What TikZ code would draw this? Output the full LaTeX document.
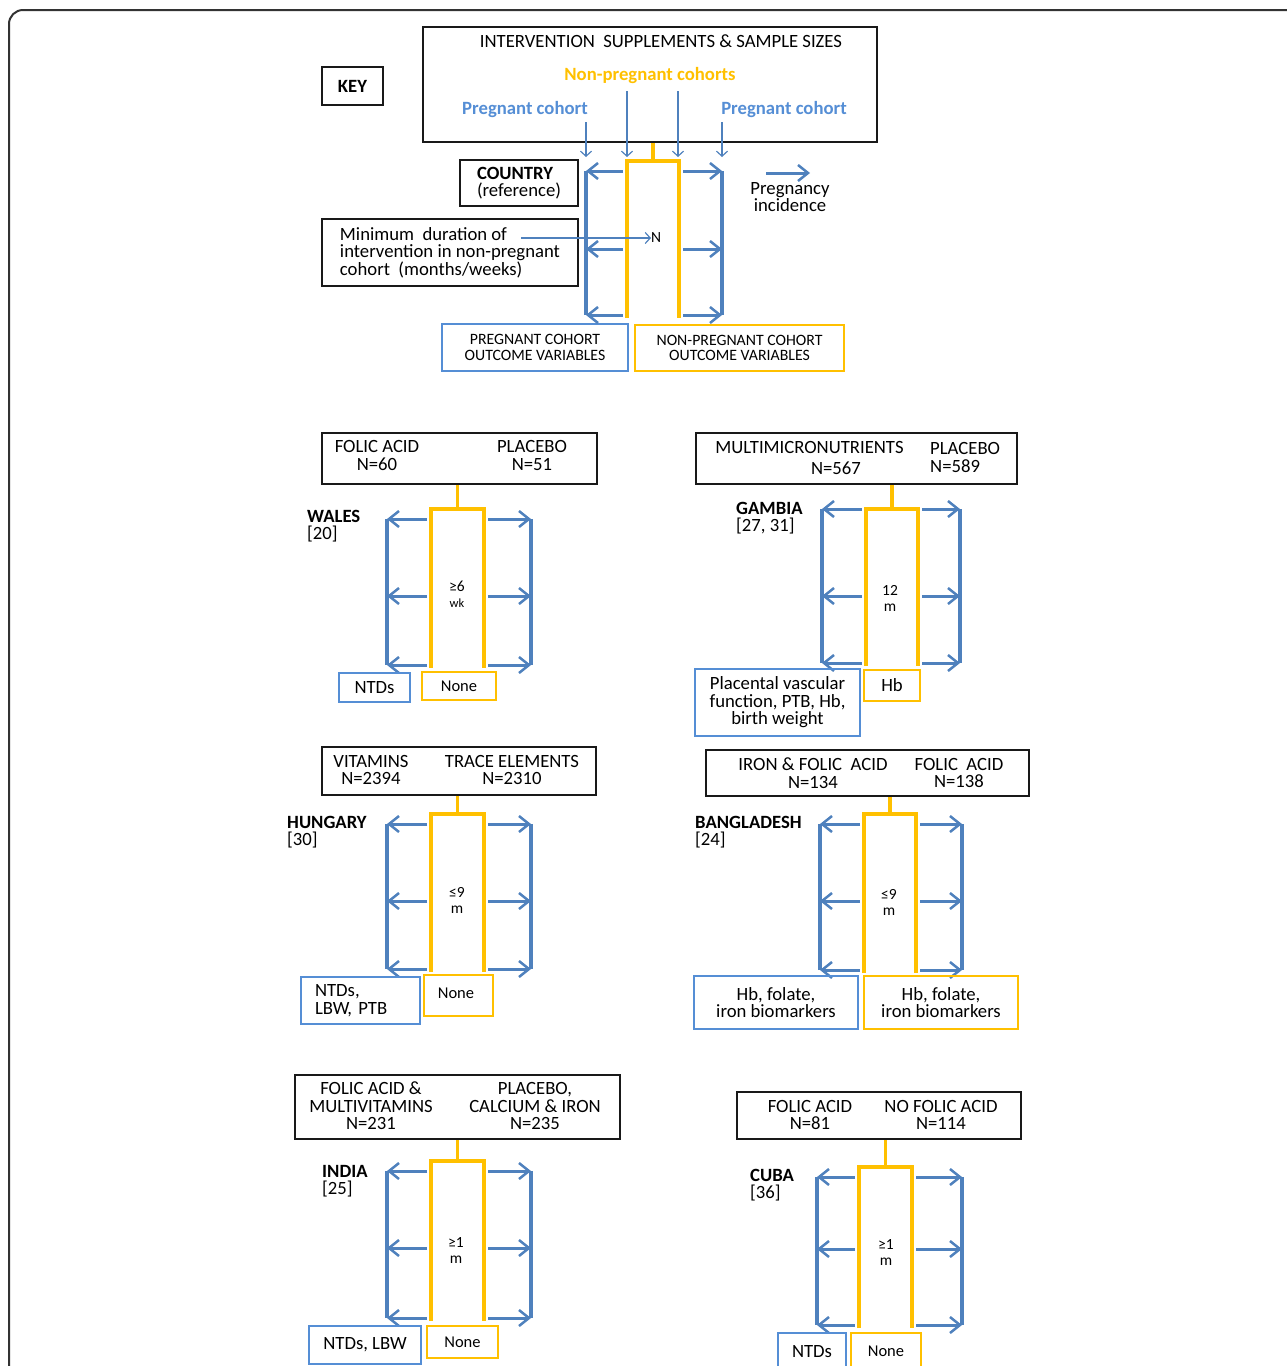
\documentclass[tikz,border=0pt]{standalone}
\usepackage{fontspec}
\setmainfont{Carlito}
\usetikzlibrary{arrows.meta,positioning}

\definecolor{pblue}{HTML}{4F81BD}
\definecolor{lblue}{HTML}{558ED5}
\definecolor{nyel}{HTML}{FFC000}

\newcommand\bigfs{\fontsize{18.7}{17.5}\selectfont}
\newcommand\midfs{\fontsize{16.5}{16}\selectfont}
\newcommand\outfs{\fontsize{15.8}{15.5}\selectfont}
\newcommand\smallfs{\fontsize{15.5}{16}\selectfont}
\newcommand\tinyfs{\fontsize{12.5}{13}\selectfont}

% #1 name, #2 blue left, #3 yellow left, #4 yellow right, #5 blue right,
% #6 yellow top, #7 #8 #9 arrow rows
\newcommand\cohortbracket[9]{%
  \coordinate (#1top) at ({(#3+#4)/2},#6);
  \draw[ylwline] (#3,#9+3) -- (#3,#6) -- (#4,#6) -- (#4,#9+3);
  \draw[blueline] (#2,#7) -- (#2,#9);
  \draw[blueline] (#5,#7) -- (#5,#9);
  \foreach \yy in {#7,#8,#9} {
    \draw[bluearr] (#3-4,\yy) -- (#2,\yy);
    \draw[bluearr] (#4+4,\yy) -- (#5,\yy);
  }
}

\begin{document}
\begin{tikzpicture}[x=1pt,y=-1pt,
    txt/.style={font=\bigfs,inner sep=0pt,align=center},
    ctry/.style={font=\bigfs,inner sep=0pt,align=left,anchor=north west},
    mid/.style={font=\smallfs,inner sep=0pt,align=center},
    blk/.style={draw=black!90,line width=1.5pt,inner sep=0pt},
    pbox/.style={draw=lblue,line width=2.5pt,inner sep=0pt,font=\bigfs,align=center},
    nbox/.style={draw=nyel,line width=2.5pt,inner sep=0pt,font=\midfs,align=center},
    ylwline/.style={draw=nyel,line width=3.5pt},
    blueline/.style={draw=pblue,line width=3.5pt},
    bluearr/.style={draw=pblue,line width=3pt,-{Straight Barb[length=10pt,width=16pt,line width=2.5pt]}},
    thinarr/.style={draw=pblue,line width=1.3pt,-{Straight Barb[length=5pt,width=11pt,line width=1.2pt]}}]

    \useasboundingbox (0,0) rectangle (1287,1366);
    \draw[draw=black!80,line width=2pt,rounded corners=14pt] (9,1400) -- (9,10) -- (1320,10);

    % key
    \node[blk,minimum width=61pt,minimum height=38pt,font=\bigfs\bfseries] (key) at (352.5,86) {KEY};
    \node[blk,minimum width=454pt,minimum height=115pt] (sup) at (650,84.5) {};
    \node[txt] (supt) at (661,41) {INTERVENTION\ \ SUPPLEMENTS \& SAMPLE SIZES};
    \node[txt,font=\bigfs\bfseries,text=nyel] (npc) at (650,76) {Non-pregnant cohorts};
    \node[txt,font=\bigfs\bfseries,text=lblue] (pcl) at (525,110) {Pregnant cohort};
    \node[txt,font=\bigfs\bfseries,text=lblue] (pcr) at (784,110) {Pregnant cohort};
    \node[blk,minimum width=118pt,minimum height=46pt,font=\bigfs,align=left] (ctry) at (519,183) {\textbf{COUNTRY}\\(reference)};
    \node[blk,minimum width=256pt,minimum height=67pt,font=\bigfs,align=left] (mindur) at (450,252.5)
        {Minimum\ \ duration of\\intervention in non-pregnant\\cohort\ \ (months/weeks)};
    \node[mid,anchor=west] (kn) at (651,238) {N};
    \node[txt] (inc) at (790,197) {Pregnancy\\incidence};
    \node[pbox,font=\outfs,minimum width=186pt,minimum height=47pt] (pout) at (535,347.5) {PREGNANT COHORT\\OUTCOME VARIABLES};
    \node[nbox,font=\outfs,minimum width=209pt,minimum height=46pt] (nout) at (739.5,348) {NON-PREGNANT COHORT\\OUTCOME VARIABLES};

    \cohortbracket{k}{586}{627}{679}{722}{161}{171}{249}{315}
    \draw[ylwline] (ktop) -- (ktop |- sup.south);

    \coordinate (kin1) at (586,157);
    \coordinate (kin2) at (627,157);
    \coordinate (kin3) at (678,157);
    \coordinate (kin4) at (722,157);
    \coordinate (kmin) at (521,238);
    \coordinate (kinc1) at (766,173);
    \coordinate (kinc2) at (810,173);
    \draw[thinarr] ([yshift=-4pt]pcl.south -| kin1) -- (kin1);
    \draw[thinarr] ([yshift=-7pt]npc.south -| kin2) -- (kin2);
    \draw[thinarr] ([yshift=-7pt]npc.south -| kin3) -- (kin3);
    \draw[thinarr] ([yshift=-4pt]pcr.south -| kin4) -- (kin4);
    \draw[thinarr] (kmin) -- (kn.west);
    \draw[bluearr] (kinc1) -- (kinc2);

    % Wales
    \node[blk,minimum width=275pt,minimum height=51pt] (wbox) at (459.5,458.5) {};
    \node[txt] (wa) at (377,455.5) {FOLIC ACID\\N=60};
    \node[txt] (wb) at (532,455.5) {PLACEBO\\N=51};
    \node[ctry] (wname) at (307,510) {\textbf{WALES}\\{}[20]};
    \cohortbracket{w}{387}{431}{484}{531}{509}{519}{596}{665}
    \draw[ylwline] (wtop) -- (wtop |- wbox.south);
    \node[mid] (wdur) at (457,594) {≥6\\{\tinyfs wk}};
    \node[pbox,minimum width=71pt,minimum height=29pt] (wp) at (374.5,687.5) {NTDs};
    \node[nbox,minimum width=74pt,minimum height=28pt] (wn) at (459,686) {None};

    % Gambia
    \node[blk,minimum width=321pt,minimum height=51pt] (gbox) at (856.5,458.5) {};
    \node[txt] (ga) at (809.5,447) {MULTIMICRONUTRIENTS};
    \node[txt] (ga2) at (836,468) {N=567};
    \node[txt,align=left,anchor=west] (gb) at (930,457.5) {PLACEBO\\N=589};
    \node[ctry] (gname) at (736,502) {\textbf{GAMBIA}\\{}[27, 31]};
    \cohortbracket{g}{822}{866}{918}{960}{509}{509}{596}{663}
    \draw[ylwline] (gtop) -- (gtop |- gbox.south);
    \node[mid] (gdur) at (890,598) {12\\m};
    \node[pbox,minimum width=165pt,minimum height=67pt] (gp) at (777.5,702.5) {Placental vascular\\function, PTB, Hb,\\birth weight};
    \node[nbox,font=\bigfs,minimum width=56pt,minimum height=31pt] (gn) at (892,685.5) {Hb};

    % Hungary
    \node[blk,minimum width=274pt,minimum height=48pt] (hbox) at (459,771) {};
    \node[txt] (ha) at (371,770) {VITAMINS\\N=2394};
    \node[txt] (hb) at (512,770) {TRACE ELEMENTS\\N=2310};
    \node[ctry] (hname) at (287,816) {\textbf{HUNGARY}\\{}[30]};
    \cohortbracket{h}{387}{431}{484}{531}{814}{824}{901}{969}
    \draw[ylwline] (htop) -- (htop |- hbox.south);
    \node[mid] (hdur) at (457,900) {≤9\\m};
    \node[pbox,align=left,text width=91pt,inner xsep=14pt,minimum height=47pt] (hp) at (360.5,1000.5) {NTDs,\\LBW, PTB};
    \node[nbox,minimum width=69pt,minimum height=41pt] (hn) at (458.5,995.5) {};
    \node[txt,font=\midfs] (hnt) at (456,993) {None};

    % Bangladesh
    \node[blk,minimum width=323pt,minimum height=46pt] (bbox) at (867.5,773) {};
    \node[txt] (ba) at (813,773) {IRON \& FOLIC\ \ ACID\\N=134};
    \node[txt] (bb) at (959,773) {FOLIC\ \ ACID\\N=138};
    \node[ctry] (bname) at (695,816) {\textbf{BANGLADESH}\\{}[24]};
    \cohortbracket{b}{820}{864}{916}{962}{814}{824}{901}{970}
    \draw[ylwline] (btop) -- (btop |- bbox.south);
    \node[mid] (bdur) at (889,902) {≤9\\m};
    \node[pbox,minimum width=164pt,minimum height=53pt] (bp) at (776,1002.5) {Hb, folate,\\iron biomarkers};
    \node[nbox,font=\bigfs,minimum width=154pt,minimum height=53pt] (bn) at (941,1002.5) {Hb, folate,\\iron biomarkers};

    % India
    \node[blk,minimum width=325pt,minimum height=64pt] (ibox) at (457.5,1107) {};
    \node[txt] (ia) at (371,1106) {FOLIC ACID \&\\MULTIVITAMINS\\N=231};
    \node[txt] (ib) at (535,1106) {PLACEBO,\\CALCIUM \& IRON\\N=235};
    \node[ctry] (iname) at (322,1165) {\textbf{INDIA}\\{}[25]};
    \cohortbracket{i}{387}{431}{484}{531}{1161}{1171}{1248}{1318}
    \draw[ylwline] (itop) -- (itop |- ibox.south);
    \node[mid] (idur) at (456,1250) {≥1\\m};
    \node[pbox,minimum width=112pt,minimum height=38pt] (ip) at (365,1345) {NTDs, LBW};
    \node[nbox,minimum width=71pt,minimum height=32pt] (in) at (462.5,1342) {None};

    % Cuba
    \node[blk,minimum width=284pt,minimum height=47pt] (cbox) at (879,1115.5) {};
    \node[txt] (ca) at (810,1115) {FOLIC ACID\\N=81};
    \node[txt] (cb) at (941,1115) {NO FOLIC ACID\\N=114};
    \node[ctry] (cname) at (750,1169) {\textbf{CUBA}\\{}[36]};
    \cohortbracket{c}{817}{859}{912}{962}{1167}{1177}{1249}{1325}
    \draw[ylwline] (ctop) -- (ctop |- cbox.south);
    \node[mid] (cdur) at (886,1252) {≥1\\m};
    \node[pbox,minimum width=68pt,minimum height=37pt] (cp) at (812,1351.5) {NTDs};
    \node[nbox,minimum width=70pt,minimum height=37pt] (cn) at (886,1351.5) {None};
\end{tikzpicture}
\end{document}
